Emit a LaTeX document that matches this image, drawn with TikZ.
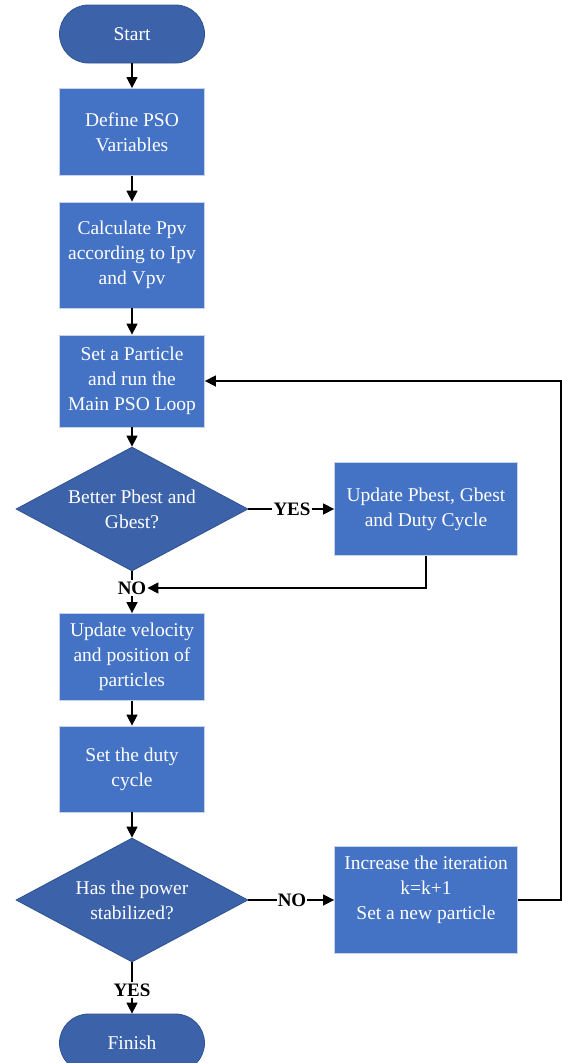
\documentclass[tikz,border=0pt]{standalone}
\usepackage{fontspec}
\setmainfont{Liberation Serif}
\usetikzlibrary{arrows.meta,shapes.geometric}
\definecolor{boxfill}{HTML}{4472C4}
\definecolor{boxline}{HTML}{C9D3E8}
\definecolor{termfill}{HTML}{3C63AA}
\definecolor{termline}{HTML}{2F528F}
\begin{document}
\begin{tikzpicture}[x=1pt,y=-1pt,
  txt/.style={text=white,font=\fontsize{19.5}{25}\selectfont,align=center},
  box/.style={txt,draw=boxline,fill=boxfill,line width=0.8pt,minimum width=145pt,inner sep=0pt},
  term/.style={txt,draw=termline,fill=termfill,line width=0.8pt,rounded corners=29pt,minimum width=145pt,minimum height=58pt,inner sep=0pt},
  dec/.style={diamond,draw=termline,fill=termfill,line width=0.8pt,minimum width=232pt,minimum height=124pt,inner sep=0pt,aspect=1.87},
  dlab/.style={txt},
  lbl/.style={font=\fontsize{19}{20}\selectfont\bfseries,inner sep=1pt},
  arr/.style={line width=1.5pt,-{Triangle[length=11pt,width=11pt]}},
  ln/.style={line width=1.5pt}]
\clip (0,0) rectangle (562,1063);
\useasboundingbox (0,0) rectangle (562,1063);
\node[term] (start) at (132,34) {Start};
\node[box,minimum height=87pt] (define) at (132,132) {Define PSO\\Variables};
\node[box,minimum height=106pt] (calc) at (132,255) {Calculate Ppv\\according to Ipv\\and Vpv};
\node[box,minimum height=92pt] (set) at (132,381) {Set a Particle\\and run the\\Main PSO Loop};
\node[dec,label={[dlab]center:Better Pbest and\\Gbest?}] (d1) at (132,509) {};
\node[box,minimum width=183pt,minimum height=93pt] (upd) at (426,509) {Update Pbest, Gbest\\and Duty Cycle};
\node[lbl] (yes1) at (292,509) {YES};
\node[lbl] (no1) at (132,588) {NO};
\node[box,minimum height=87pt] (vel) at (132,657) {Update velocity\\and position of\\particles};
\node[box,minimum height=86pt] (duty) at (132,769) {Set the duty\\cycle};
\node[dec,label={[dlab]center:Has the power\\stabilized?}] (d2) at (132,900) {};
\node[box,minimum width=183pt,minimum height=107pt,label={[txt,yshift=10pt]center:Increase the iteration\\k=k+1\\Set a new particle}] (inc) at (426,900) {};
\node[lbl] (no2) at (292,900) {NO};
\node[lbl] (yes2) at (132,990) {YES};
\node[term] (finish) at (132,1043) {Finish};
\coordinate (loopc) at (561,900);
\draw[arr] (start) -- (define);
\draw[arr] (define) -- (calc);
\draw[arr] (calc) -- (set);
\draw[arr] (set) -- (d1);
\draw[ln] (d1.east) -- (yes1.west);
\draw[arr] (yes1.east) -- (upd.west);
\draw[ln] (d1.south) -- (no1.north);
\draw[arr] (upd.south) |- (no1.east);
\draw[arr] (no1.south) -- (vel.north);
\draw[arr] (vel) -- (duty);
\draw[arr] (duty) -- (d2);
\draw[ln] (d2.east) -- (no2.west);
\draw[arr] (no2.east) -- (inc.west);
\draw[arr] (inc.east) -- (loopc) |- (set.east);
\draw[ln] (d2.south) -- (yes2.north);
\draw[arr] (yes2.south) -- (finish.north);
\end{tikzpicture}
\end{document}
